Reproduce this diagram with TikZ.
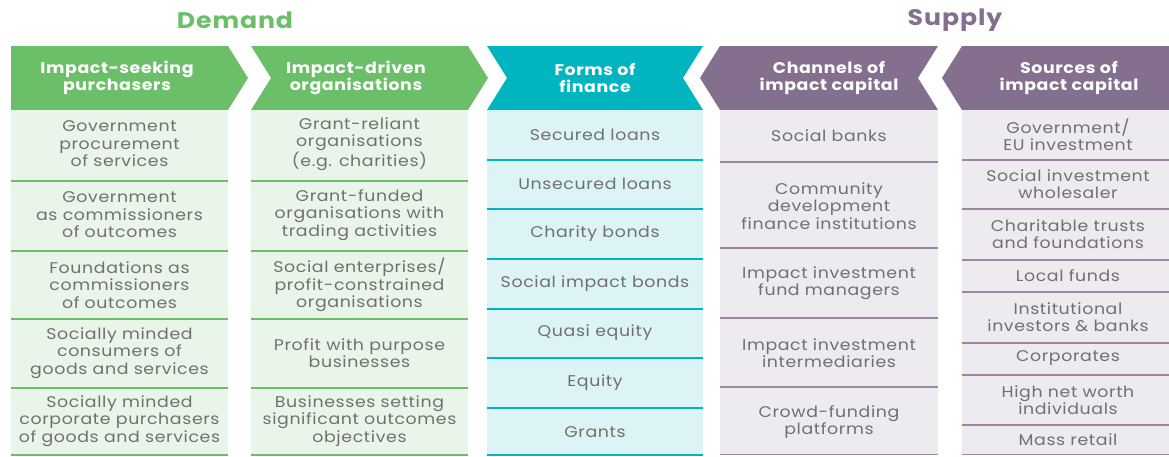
\documentclass[tikz,border=0pt]{standalone}
\usepackage{fontspec}
\setmainfont{Poppins}[LetterSpace=4,FakeStretch=1.12]
\definecolor{demandgreen}{HTML}{6CBF69}
\definecolor{demandlight}{HTML}{EAF5E9}
\definecolor{financeteal}{HTML}{00B5BF}
\definecolor{financelight}{HTML}{DDF4F6}
\definecolor{supplypurple}{HTML}{84708E}
\definecolor{supplylight}{HTML}{EEEBF0}
\definecolor{supplyline}{HTML}{9A88A3}
\definecolor{cellgrey}{HTML}{707070}
\newcommand{\cellpt}[4][]{\node[align=center,text=cellgrey,font=\fontsize{15.5}{17.5}\selectfont,inner sep=0pt,#1] at (#2) (#3) {#4}}
\newcommand{\headpt}[4][]{\node[align=center,text=white,font=\fontsize{15.5}{17.5}\selectfont\bfseries,inner sep=0pt,#1] at (#2) (#3) {#4}}

\begin{document}
\begin{tikzpicture}[x=1pt,y=-1pt]
			\useasboundingbox (0,0) rectangle (1169,456);
			\node[text=demandgreen,font=\fontsize{22.5}{24}\selectfont\bfseries] at (235,20) (demand) {Demand};
			\node[text=supplypurple,font=\fontsize{22.5}{24}\selectfont\bfseries] at (955,20) (supply) {Supply};
			
			\fill[demandgreen] (11,46) -- (228,46) -- (248,78) -- (228,110) -- (11,110) -- cycle;
			\fill[demandgreen] (251,46) -- (468,46) -- (488,78) -- (468,110) -- (251,110) -- (271,78) -- cycle;
			\fill[financeteal] (487,46) -- (703,46) -- (683,78) -- (703,110) -- (487,110) -- (507,78) -- cycle;
			\fill[supplypurple] (700,78) -- (720,46) -- (938,46) -- (918,78) -- (938,110) -- (720,110) -- cycle;
			\fill[supplypurple] (942,78) -- (962,46) -- (1169,46) -- (1169,110) -- (962,110) -- cycle;
			
			\headpt{117,78}{purchasers}{Impact-seeking\\purchasers};
			\headpt{356,78}{organisations}{Impact-driven\\organisations};
			\headpt{595,78}{finance}{Forms of\\finance};
			\headpt{829,78}{channels}{Channels of\\impact capital};
			\headpt{1069,78}{sources}{Sources of\\impact capital};
			
			\fill[demandlight] (11,110) rectangle (228,455);
			\fill[demandlight] (251,110) rectangle (468,455);
			\fill[financelight] (487,110) rectangle (703,455);
			\fill[supplylight] (720,110) rectangle (938,455);
			\fill[supplylight] (962,110) rectangle (1169,455);
			
			\draw[demandgreen,line width=2pt] (11,181) -- (228,181) (11,251) -- (228,251) (11,319) -- (228,319) (11,388) -- (228,388) (11,454.5) -- (228,454.5);
			\draw[demandgreen,line width=2pt] (251,181) -- (468,181) (251,251) -- (468,251) (251,319) -- (468,319) (251,388) -- (468,388) (251,454.5) -- (468,454.5);
			\draw[financeteal,line width=2pt] (487,160) -- (703,160) (487,209) -- (703,209) (487,259) -- (703,259) (487,309) -- (703,309) (487,358) -- (703,358) (487,408) -- (703,408) (487,454.5) -- (703,454.5);
			\draw[supplyline,line width=1.6pt] (720,162) -- (938,162) (720,248) -- (938,248) (720,318) -- (938,318) (720,387) -- (938,387) (720,454.5) -- (938,454.5);
			\draw[supplyline,line width=1.6pt] (962,160) -- (1169,160) (962,209) -- (1169,209) (962,260) -- (1169,260) (962,292) -- (1169,292) (962,343) -- (1169,343) (962,375) -- (1169,375) (962,425) -- (1169,425) (962,454.5) -- (1169,454.5);
			
			\cellpt{119.5,144}{procurement}{Government\\procurement\\of services};
			\cellpt{119.5,215}{govoutcomes}{Government\\as commissioners\\of outcomes};
			\cellpt{119.5,285}{foundoutcomes}{Foundations as\\commissioners\\of outcomes};
			\cellpt{119.5,353}{consumers}{Socially minded\\consumers of\\goods and services};
			\cellpt{119.5,421}{corporate}{Socially minded\\corporate purchasers\\of goods and services};
			
			\cellpt{359.5,144}{grantreliant}{Grant-reliant\\organisations\\(e.g. charities)};
			\cellpt{359.5,215}{grantfunded}{Grant-funded\\organisations with\\trading activities};
			\cellpt{359.5,285}{socialent}{Social enterprises/\\profit-constrained\\organisations};
			\cellpt{359.5,353}{purpose}{Profit with purpose\\businesses};
			\cellpt{359.5,421}{significant}{Businesses setting\\significant outcomes\\objectives};
			
			\cellpt{595,135}{secured}{Secured loans};
			\cellpt{595,184}{unsecured}{Unsecured loans};
			\cellpt{595,234}{charity}{Charity bonds};
			\cellpt{595,284}{sib}{Social impact bonds};
			\cellpt{595,333}{quasi}{Quasi equity};
			\cellpt{595,383}{equity}{Equity};
			\cellpt{595,432}{grants}{Grants};
			
			\cellpt{829,136}{socialbanks}{Social banks};
			\cellpt{829,206}{cdfi}{Community\\development\\finance institutions};
			\cellpt{829,283}{fundmgr}{Impact investment\\fund managers};
			\cellpt{829,353}{intermed}{Impact investment\\intermediaries};
			\cellpt{829,422}{crowd}{Crowd-funding\\platforms};
			
			\cellpt{1068,135}{goveu}{Government/\\EU investment};
			\cellpt{1068,184}{wholesaler}{Social investment\\wholesaler};
			\cellpt{1068,234}{trusts}{Charitable trusts\\and foundations};
			\cellpt{1068,276}{localfunds}{Local funds};
			\cellpt{1068,317}{institutional}{Institutional\\investors \& banks};
			\cellpt{1068,358}{corporates}{Corporates};
			\cellpt{1068,400}{hnwi}{High net worth\\individuals};
			\cellpt{1068,440}{massretail}{Mass retail};
			
			\end{tikzpicture}
\end{document}
